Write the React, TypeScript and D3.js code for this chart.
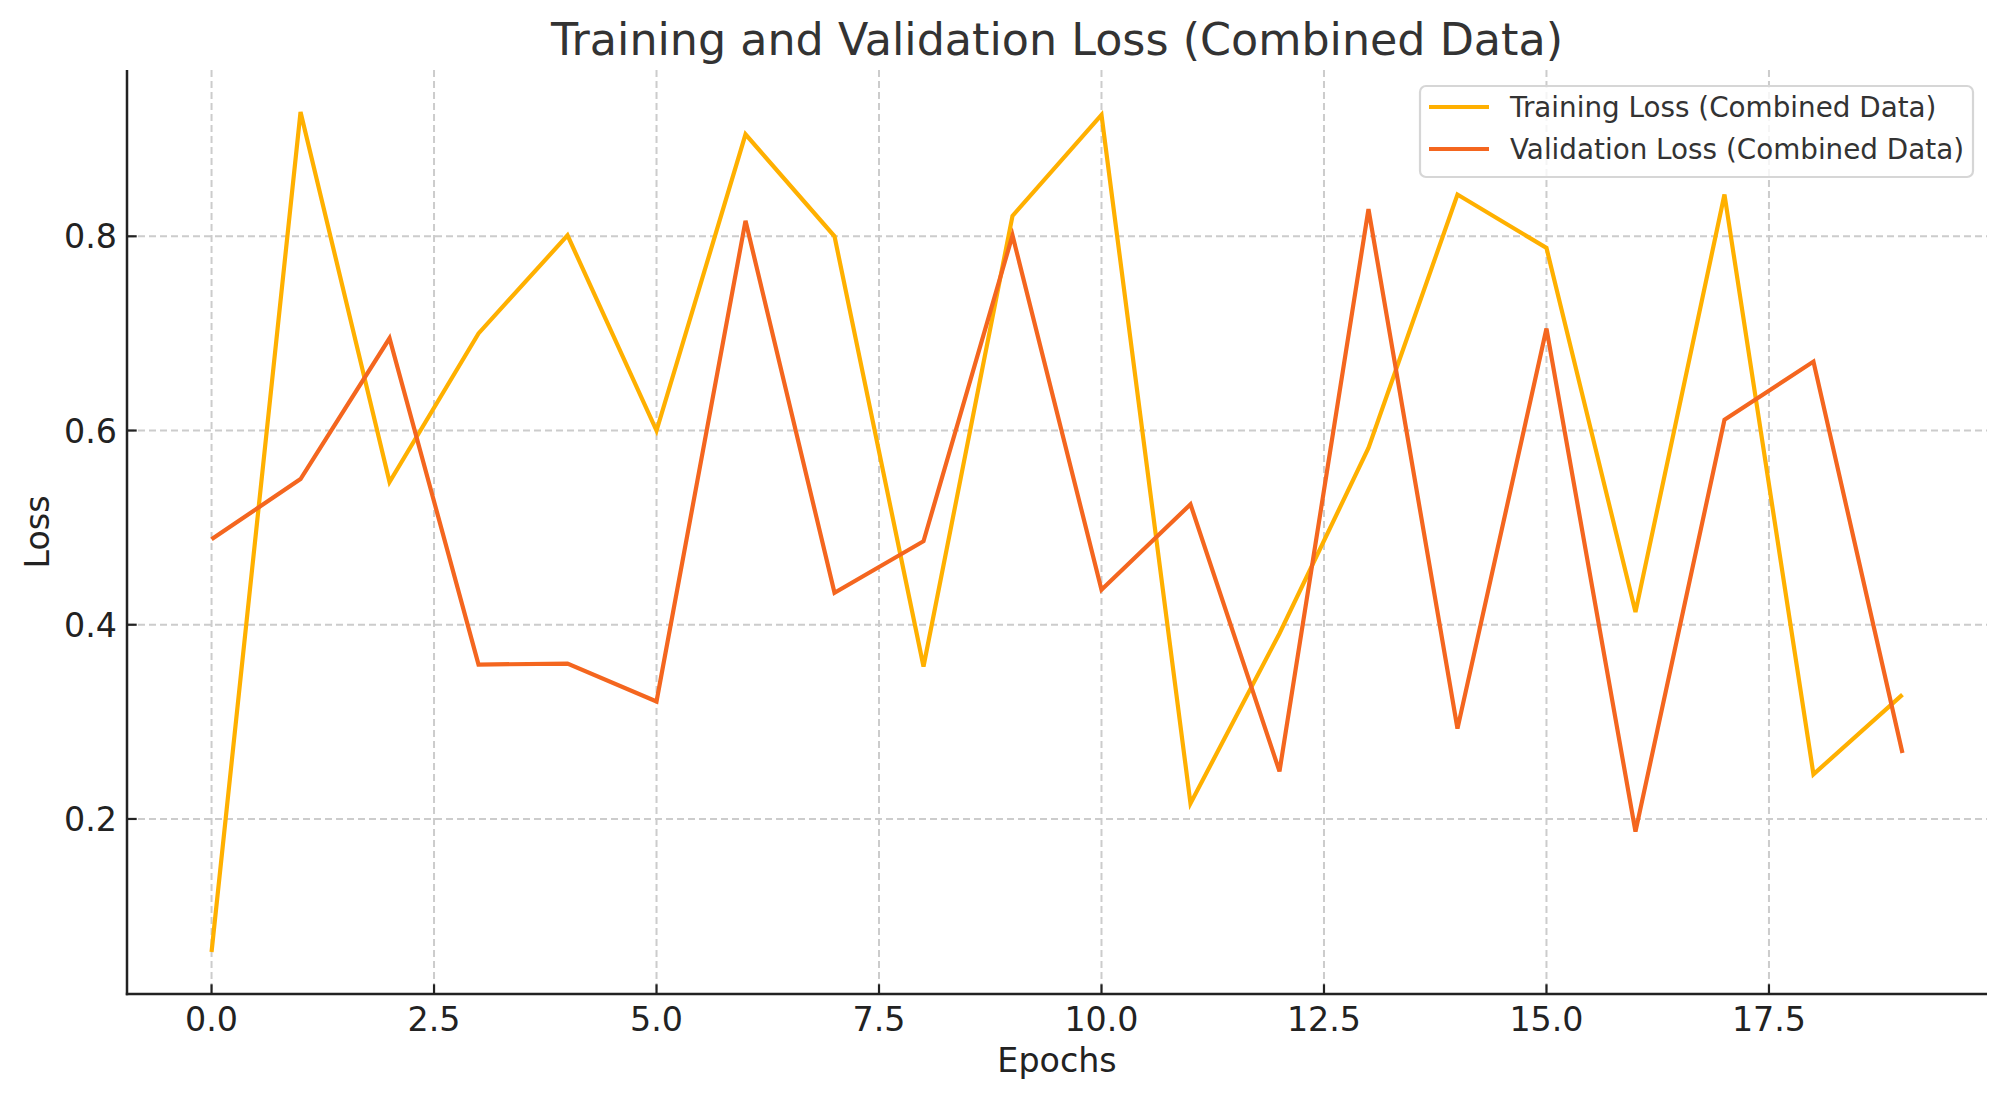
import React from "react";
import * as d3 from "d3";

const epochs = [0, 1, 2, 3, 4, 5, 6, 7, 8, 9, 10, 11, 12, 13, 14, 15, 16, 17, 18, 19];
const trainingLoss = [0.063, 0.928, 0.547, 0.700, 0.801, 0.600, 0.905, 0.800, 0.357, 0.821, 0.925, 0.216, 0.391, 0.582, 0.843, 0.788, 0.413, 0.843, 0.246, 0.328];
const validationLoss = [0.488, 0.550, 0.695, 0.359, 0.360, 0.321, 0.816, 0.433, 0.486, 0.801, 0.436, 0.524, 0.249, 0.828, 0.293, 0.705, 0.187, 0.611, 0.671, 0.268];
const xTicks = [0, 2.5, 5, 7.5, 10, 12.5, 15, 17.5];
const yTicks = [0.2, 0.4, 0.6, 0.8];
const seriesNames = ["Training Loss (Combined Data)", "Validation Loss (Combined Data)"];
const seriesColors = ["#FFB000", "#F4661F"];

const W = 2007;
const H = 1101;
const M = { left: 127, right: 1987, top: 70, bottom: 994 };
const FONT = "'DejaVu Sans', sans-serif";

export default function App() {
  const xExt = d3.extent(epochs) as [number, number];
  const xPad = (xExt[1] - xExt[0]) * 0.05;
  const x = d3.scaleLinear().domain([xExt[0] - xPad, xExt[1] + xPad]).range([M.left, M.right]);
  const allY = [...trainingLoss, ...validationLoss];
  const yExt = d3.extent(allY) as [number, number];
  const yPad = (yExt[1] - yExt[0]) * 0.05;
  const y = d3.scaleLinear().domain([yExt[0] - yPad, yExt[1] + yPad]).range([M.bottom, M.top]);

  const line = d3
    .line<number>()
    .x((_, i) => x(epochs[i]))
    .y((d) => y(d));

  const series = [trainingLoss, validationLoss];

  const legX = 1420;
  const legY = 86;
  const legW = 553;
  const legH = 91;

  return (
    <svg width={W} height={H} style={{ position: "absolute", left: 0, top: 0, background: "#fff" }} fontFamily={FONT}>
      <rect x={0} y={0} width={W} height={H} fill="#fff" />
      {/* grid */}
      {xTicks.map((t) => (
        <line key={"gx" + t} x1={x(t)} x2={x(t)} y1={M.top} y2={M.bottom} stroke="#cccccc" strokeWidth={2} strokeDasharray="7,4" />
      ))}
      {yTicks.map((t) => (
        <line key={"gy" + t} x1={M.left} x2={M.right} y1={y(t)} y2={y(t)} stroke="#cccccc" strokeWidth={2} strokeDasharray="7,4" />
      ))}
      {/* lines */}
      {series.map((s, i) => (
        <path key={"s" + i} d={line(s) || ""} fill="none" stroke={seriesColors[i]} strokeWidth={4.2} strokeLinejoin="miter" strokeLinecap="butt" />
      ))}
      {/* spines */}
      <line x1={M.left} x2={M.left} y1={M.top} y2={M.bottom + 1.2} stroke="#222" strokeWidth={2.5} />
      <line x1={M.left - 1.2} x2={M.right} y1={M.bottom} y2={M.bottom} stroke="#222" strokeWidth={2.5} />
      {/* ticks */}
      {xTicks.map((t) => (
        <g key={"xt" + t}>
          <line x1={x(t)} x2={x(t)} y1={M.bottom} y2={M.bottom - 9.7} stroke="#222" strokeWidth={2.2} />
          <text x={x(t)} y={1031} textAnchor="middle" fontSize={33.3} fill="#222">
            {t.toFixed(1)}
          </text>
        </g>
      ))}
      {yTicks.map((t) => (
        <g key={"yt" + t}>
          <line x1={M.left} x2={M.left + 9.7} y1={y(t)} y2={y(t)} stroke="#222" strokeWidth={2.2} />
          <text x={117} y={y(t) + 12} textAnchor="end" fontSize={33.3} fill="#222">
            {t.toFixed(1)}
          </text>
        </g>
      ))}
      {/* axis labels */}
      <text x={(M.left + M.right) / 2} y={1072} textAnchor="middle" fontSize={33.3} fill="#222">
        Epochs
      </text>
      <text transform={`translate(49, ${(M.top + M.bottom) / 2}) rotate(-90)`} textAnchor="middle" fontSize={33.3} fill="#222">
        Loss
      </text>
      {/* title */}
      <text x={(M.left + M.right) / 2} y={55} textAnchor="middle" fontSize={44.4} fill="#333">
        Training and Validation Loss (Combined Data)
      </text>
      {/* legend */}
      <rect x={legX} y={legY} width={legW} height={legH} rx={6} ry={6} fill="#ffffff" fillOpacity={0.8} stroke="#d6d6d6" strokeWidth={2.2} />
      {seriesNames.map((n, i) => (
        <g key={"lg" + i}>
          <line x1={1429} x2={1489} y1={107 + i * 42} y2={107 + i * 42} stroke={seriesColors[i]} strokeWidth={4.2} />
          <text x={1510} y={107 + i * 42 + 10} fontSize={27.8} fill="#333">
            {n}
          </text>
        </g>
      ))}
    </svg>
  );
}
